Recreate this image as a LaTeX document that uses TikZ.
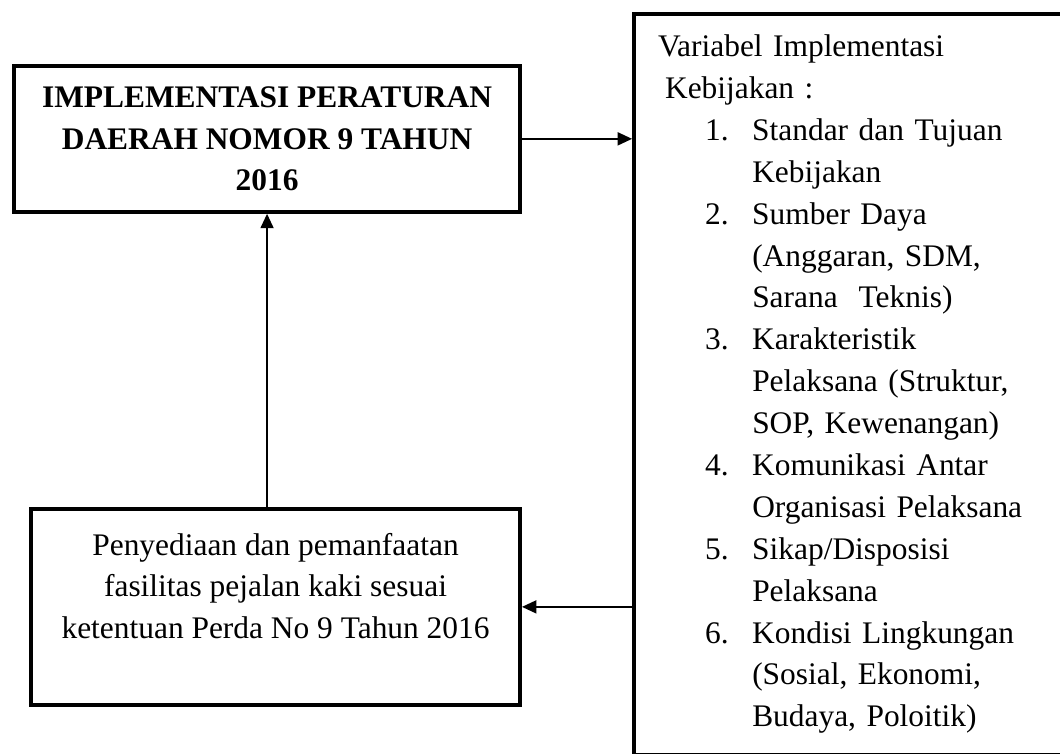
\documentclass[tikz,border=0pt]{standalone}
\usepackage{fontspec}
\setmainfont{Liberation Serif}
\usetikzlibrary{positioning,arrows.meta}
\newcommand{\butir}[1]{\hspace*{18pt}\makebox[18pt][l]{#1}}
\newcommand{\lanjut}{\hspace*{36pt}}

\begin{document}
\begin{tikzpicture}[>={Triangle[length=5.5pt,width=5pt]},
	box/.style={draw,line width=1.5pt,inner sep=0pt,font=\fontsize{12}{16}\selectfont}]
	\useasboundingbox (0,0) rectangle (14.23,10.12);
	\clip (0,0) rectangle (14.23,10.12);
	\node[box,align=center,minimum width=6.79cm,minimum height=1.96cm,font=\fontsize{12}{16}\selectfont\bfseries] (perda) at (3.585,8.256) {IMPLEMENTASI PERATURAN\\DAERAH NOMOR 9 TAHUN\\2016};
	\node[box,align=center,minimum width=6.565cm,minimum height=2.631cm] (fasilitas) at (3.699,1.973) {Penyediaan dan pemanfaatan\\fasilitas pejalan kaki sesuai\\ketentuan Perda No 9 Tahun 2016\\\mbox{}};
	\node[box,anchor=north west,align=left,text width=5.276cm,minimum width=5.92cm,minimum height=9.945cm] (variabel) at (8.485,9.961) {Variabel Implementasi\\
		\hspace*{2.7pt}Kebijakan :\\
		\butir{1.}Standar dan Tujuan\\
		\lanjut Kebijakan\\
		\butir{2.}Sumber Daya\\
		\lanjut (Anggaran, SDM,\\
		\lanjut Sarana~\ Teknis)\\
		\butir{3.}Karakteristik\\
		\lanjut Pelaksana (Struktur,\\
		\lanjut SOP, Kewenangan)\\
		\butir{4.}Komunikasi Antar\\
		\lanjut Organisasi Pelaksana\\
		\butir{5.}Sikap/Disposisi\\
		\lanjut Pelaksana\\
		\butir{6.}Kondisi Lingkungan\\
		\lanjut (Sosial, Ekonomi,\\
		\lanjut Budaya, Poloitik)};
	\draw[->,line width=0.6pt] (perda.east) -- (perda.east -| variabel.west);
	\draw[->,line width=0.6pt] (variabel.west |- fasilitas.east) -- (fasilitas.east);
	\draw[->,line width=0.6pt] (perda.south |- fasilitas.north) -- (perda.south);
\end{tikzpicture}
\end{document}
